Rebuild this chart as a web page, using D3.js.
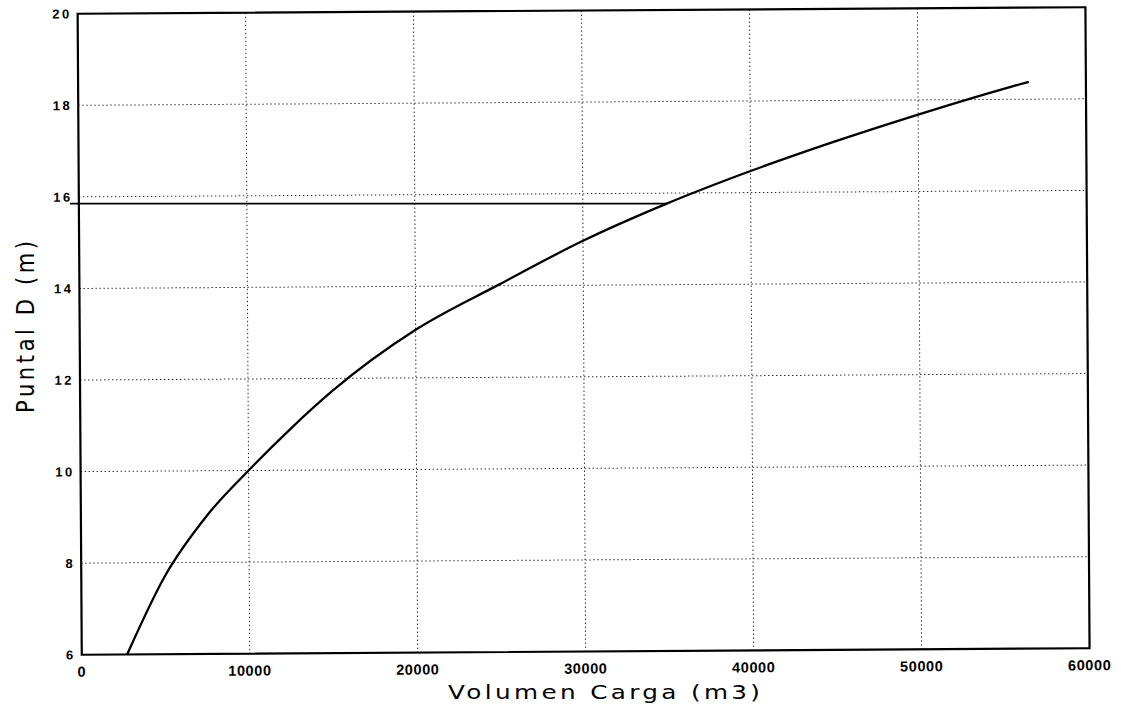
<!DOCTYPE html>
<html>
<head>
<meta charset="utf-8">
<script src="https://cdn.jsdelivr.net/npm/d3@7"></script>
<style>
  html, body { margin: 0; padding: 0; background: #fff; }
  svg { display: block; }
</style>
</head>
<body>
<script>
// Cargo volume (m3) versus depth D (m)
const volume = [2700, 5000, 7500, 10000, 12500, 15000, 20000, 25000, 30000, 35000, 40000, 45000, 50000, 55000, 56600];
const depth  = [6, 7.72, 9.02, 10, 10.9, 11.72, 13.05, 14.03, 14.97, 15.77, 16.47, 17.1, 17.68, 18.22, 18.38];

// Reference level drawn across to the curve
const markerDepth = 15.77;
const markerVolume = 35000;

const xTicks = [0, 10000, 20000, 30000, 40000, 50000, 60000];
const yTicks = [6, 8, 10, 12, 14, 16, 18, 20];

const xTitle = "Volumen Carga (m3)";
const yTitle = "Puntal D (m)";

const W = 1121, H = 708;
const plotLeft = 79.7, plotRight = 1087.5, plotTop = 10.5, plotBottom = 651.5;
const tilt = -0.37;
const cx = (plotLeft + plotRight) / 2, cy = (plotTop + plotBottom) / 2;

const svg = d3.select("body").append("svg")
  .attr("width", W).attr("height", H);

svg.append("rect").attr("width", W).attr("height", H).attr("fill", "#fff");

const x = d3.scaleLinear().domain([0, 60000]).range([plotLeft, plotRight]);
const y = d3.scaleLinear().domain([6, 20]).range([plotBottom, plotTop]);

// the plotted sheet sits very slightly rotated
const g = svg.append("g")
  .attr("transform", `rotate(${tilt}, ${cx}, ${cy})`);

function tilted(px, py) {
  const a = tilt * Math.PI / 180;
  const dx = px - cx, dy = py - cy;
  return [cx + dx * Math.cos(a) - dy * Math.sin(a), cy + dx * Math.sin(a) + dy * Math.cos(a)];
}

// dotted grid
const grid = g.append("g")
  .attr("stroke", "#333")
  .attr("stroke-width", 1)
  .attr("stroke-dasharray", "1.5,2.5");

grid.selectAll("line.v")
  .data(xTicks.slice(1, -1))
  .join("line")
  .attr("class", "v")
  .attr("x1", d => x(d)).attr("x2", d => x(d))
  .attr("y1", plotTop).attr("y2", plotBottom);

grid.selectAll("line.h")
  .data(yTicks.slice(1, -1))
  .join("line")
  .attr("class", "h")
  .attr("x1", plotLeft).attr("x2", plotRight)
  .attr("y1", d => y(d)).attr("y2", d => y(d));

// frame
g.append("rect")
  .attr("x", plotLeft).attr("y", plotTop)
  .attr("width", plotRight - plotLeft).attr("height", plotBottom - plotTop)
  .attr("fill", "none")
  .attr("stroke", "#000")
  .attr("stroke-width", 2.2);

// curve
const pts = volume.map((v, i) => [v, depth[i]]);
g.append("path")
  .datum(pts)
  .attr("fill", "none")
  .attr("stroke", "#000")
  .attr("stroke-width", 2.3)
  .attr("stroke-linejoin", "round")
  .attr("d", d3.line().x(d => x(d[0])).y(d => y(d[1])).curve(d3.curveMonotoneX));

// reference level: a level line from the axis to the curve
const mEnd = tilted(x(markerVolume), y(markerDepth));
const mStart = tilted(x(0), y(markerDepth));
svg.append("line")
  .attr("x1", mStart[0] - 9).attr("x2", mEnd[0])
  .attr("y1", mEnd[1]).attr("y2", mEnd[1])
  .attr("stroke", "#000")
  .attr("stroke-width", 1.6);

// tick labels
const tickFont = "'Liberation Sans', Arial, sans-serif";

g.append("g").selectAll("text")
  .data(xTicks)
  .join("text")
  .attr("x", d => x(d))
  .attr("y", plotBottom + 22)
  .attr("text-anchor", "middle")
  .attr("font-family", tickFont)
  .attr("font-weight", "bold")
  .attr("font-size", 14.5)
  .attr("letter-spacing", 0.6)
  .text(d => d);

g.append("g").selectAll("text")
  .data(yTicks)
  .join("text")
  .attr("x", plotLeft - 6)
  .attr("y", d => y(d))
  .attr("dy", "0.36em")
  .attr("text-anchor", "end")
  .attr("font-family", tickFont)
  .attr("font-weight", "bold")
  .attr("font-size", 13)
  .attr("letter-spacing", 2.5)
  .text(d => d);

// axis titles (wide plotter-style lettering)
const titleFont = "'DejaVu Sans', sans-serif";

svg.append("text")
  .attr("transform", "translate(604, 699) scale(1.3, 1)")
  .attr("text-anchor", "middle")
  .attr("font-family", titleFont)
  .attr("font-size", 19)
  .attr("textLength", 312 / 1.3)
  .attr("lengthAdjust", "spacing")
  .attr("fill", "#000")
  .text(xTitle);

svg.append("text")
  .attr("transform", "translate(34, 327) rotate(-90) scale(1, 1.15)")
  .attr("text-anchor", "middle")
  .attr("font-family", titleFont)
  .attr("font-size", 21)
  .attr("textLength", 172)
  .attr("lengthAdjust", "spacing")
  .attr("fill", "#000")
  .text(yTitle);
</script>
</body>
</html>
